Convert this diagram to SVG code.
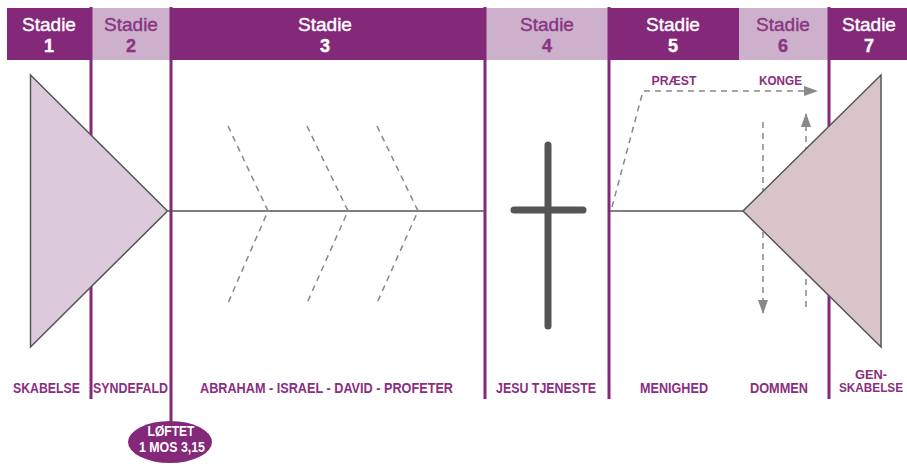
<svg xmlns="http://www.w3.org/2000/svg" width="907" height="467" viewBox="0 0 907 467">
<defs>
<style>
.dark{fill:#84297A}
.light{fill:#CCB0CC}
.hw{font-family:"Liberation Sans",Arial,sans-serif;font-size:19px;fill:#fff;stroke:#fff;stroke-width:0.4;text-anchor:middle}
.hp{font-family:"Liberation Sans",Arial,sans-serif;font-size:19px;fill:#8A3582;stroke:#8A3582;stroke-width:0.4;text-anchor:middle}
.num{font-weight:bold;font-size:18px}
.vline{stroke:#84297A;stroke-width:3;fill:none}
.lbl{font-family:"Liberation Sans",Arial,sans-serif;font-size:14px;font-weight:bold;fill:#8A2E80;text-anchor:middle}
.sm{font-size:12.5px}
.tri{stroke:#555;stroke-width:1.5}
.axis{stroke:#555;stroke-width:1.5;fill:none}
.dash{stroke:#888;stroke-width:1.5;stroke-dasharray:6 5;fill:none}
.cross{stroke:#555;stroke-width:7;stroke-linecap:round;fill:none}
</style>
<marker id="ah" viewBox="0 0 14 10" refX="13" refY="5" markerWidth="14" markerHeight="10" markerUnits="userSpaceOnUse" orient="auto">
<path d="M0,0 L14,5 L0,10 z" fill="#888"/>
</marker>
</defs>

<g id="header">
<rect class="dark" x="7" y="8" width="84" height="52"/>
<rect class="light" x="91" y="8" width="80" height="52"/>
<rect class="dark" x="171" y="8" width="315" height="52"/>
<rect class="light" x="486" y="8" width="123" height="52"/>
<rect class="dark" x="609" y="8" width="130" height="52"/>
<rect class="light" x="739" y="8" width="90" height="52"/>
<rect class="dark" x="829" y="8" width="78" height="52"/>
<text class="hw" x="49" y="31">Stadie</text><text class="hw num" x="49" y="52">1</text>
<text class="hp" x="131" y="31">Stadie</text><text class="hp num" x="131" y="52">2</text>
<text class="hw" x="325" y="31">Stadie</text><text class="hw num" x="325" y="52">3</text>
<text class="hp" x="547" y="31">Stadie</text><text class="hp num" x="547" y="52">4</text>
<text class="hw" x="673" y="31">Stadie</text><text class="hw num" x="673" y="52">5</text>
<text class="hp" x="783" y="31">Stadie</text><text class="hp num" x="783" y="52">6</text>
<text class="hw" x="869" y="31">Stadie</text><text class="hw num" x="869" y="52">7</text>
</g>

<g id="dividers">
<line class="vline" x1="91" y1="7" x2="91" y2="399"/>
<line class="vline" x1="171" y1="7" x2="171" y2="423"/>
<line class="vline" x1="485" y1="7" x2="485" y2="399"/>
<line class="vline" x1="609" y1="7" x2="609" y2="399"/>
<line class="vline" x1="829" y1="7" x2="829" y2="399"/>
</g>

<g id="connectors">
<line class="axis" x1="168" y1="211" x2="485" y2="211"/>
<line class="axis" x1="610" y1="211" x2="743" y2="211"/>
<polyline class="dash" points="228,126 268,211 228,303"/>
<polyline class="dash" points="307,126 348,211 307,303"/>
<polyline class="dash" points="377,126 418,211 377,303"/>
<polyline class="dash" points="612,207 643,91 817,91" marker-end="url(#ah)"/>
<line class="dash" x1="763" y1="122" x2="763" y2="313" marker-end="url(#ah)"/>
<line class="dash" x1="806" y1="307" x2="806" y2="114" marker-end="url(#ah)"/>
</g>

<g id="skabelse-triangle">
<polygon class="tri" fill="#DCC9DB" points="30.5,75 30.5,347 167.5,211"/>
</g>

<g id="genskabelse-triangle">
<polygon class="tri" fill="#D9C4C9" points="881,75 881,347 743,211"/>
</g>

<g id="cross">
<line class="cross" x1="548" y1="145" x2="548" y2="326"/>
<line class="cross" x1="514" y1="210" x2="583" y2="210"/>
</g>

<g id="labels">
<text class="lbl sm" x="674" y="85" textLength="45" lengthAdjust="spacingAndGlyphs">PRÆST</text>
<text class="lbl sm" x="780.5" y="85" textLength="43" lengthAdjust="spacingAndGlyphs">KONGE</text>
<text class="lbl" x="46.5" y="393" textLength="67" lengthAdjust="spacingAndGlyphs">SKABELSE</text>
<text class="lbl" x="130.5" y="393" textLength="75" lengthAdjust="spacingAndGlyphs">SYNDEFALD</text>
<text class="lbl" x="326.5" y="393" textLength="253" lengthAdjust="spacingAndGlyphs">ABRAHAM - ISRAEL - DAVID - PROFETER</text>
<text class="lbl" x="546" y="393" textLength="100" lengthAdjust="spacingAndGlyphs">JESU TJENESTE</text>
<text class="lbl" x="674" y="393" textLength="68" lengthAdjust="spacingAndGlyphs">MENIGHED</text>
<text class="lbl" x="779" y="393" textLength="58" lengthAdjust="spacingAndGlyphs">DOMMEN</text>
<text class="lbl sm" x="871" y="379" textLength="32" lengthAdjust="spacingAndGlyphs">GEN-</text>
<text class="lbl sm" x="871" y="392" textLength="64" lengthAdjust="spacingAndGlyphs">SKABELSE</text>
</g>

<g id="loftet">
<ellipse cx="170" cy="442" rx="42" ry="21" fill="#84297A"/>
<text class="lbl" style="fill:#fff" x="171" y="436" textLength="47" lengthAdjust="spacingAndGlyphs">LØFTET</text>
<text class="lbl" style="fill:#fff" x="172" y="452" textLength="66" lengthAdjust="spacingAndGlyphs">1 MOS 3,15</text>
</g>
</svg>
